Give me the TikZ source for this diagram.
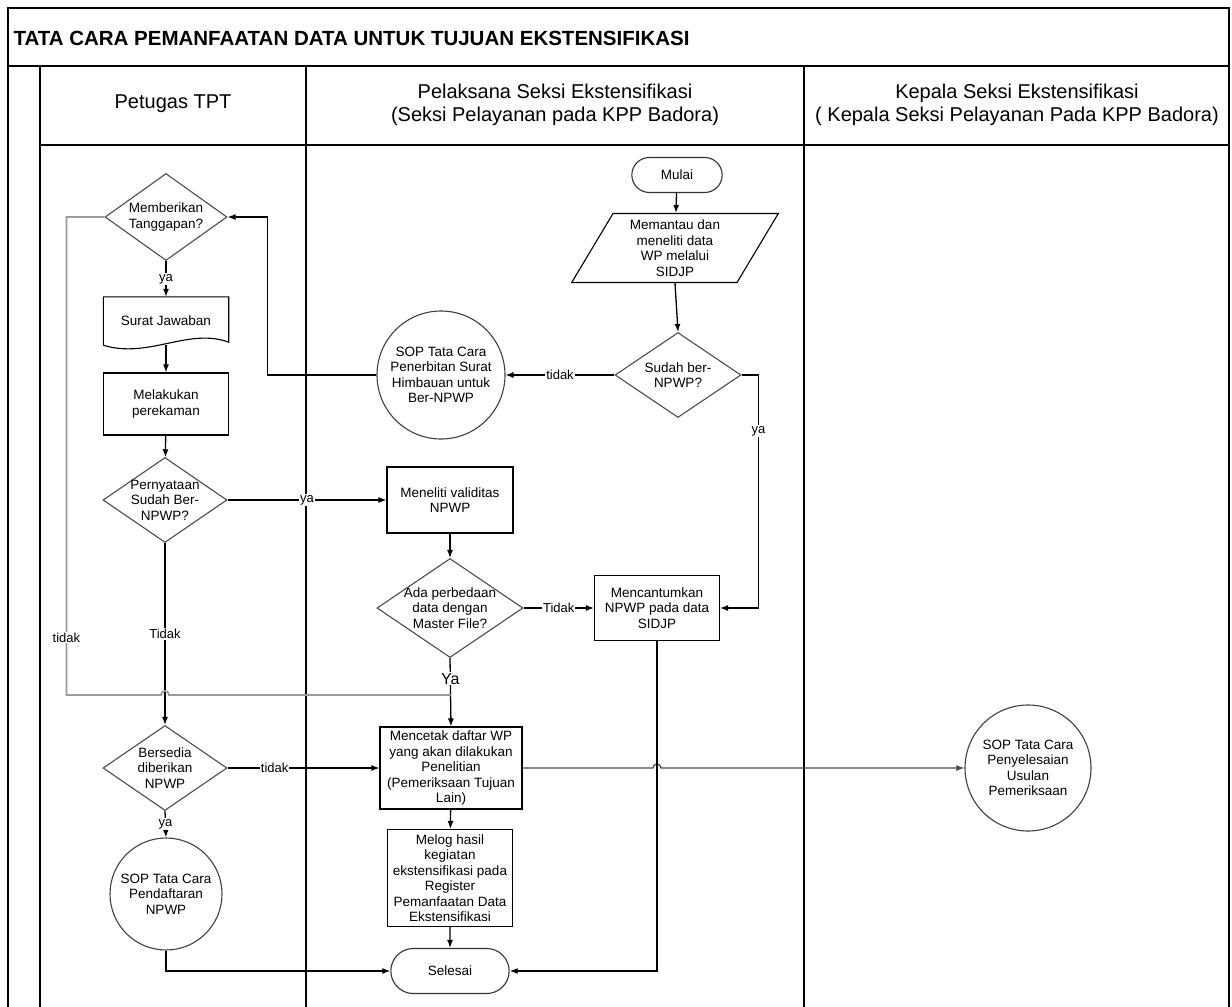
\documentclass[tikz,border=0pt]{standalone}
\usepackage{fontspec}
\setmainfont{Liberation Sans}
\usetikzlibrary{shapes.geometric,shapes.misc,arrows.meta,calc}

\newcommand\titleFont{\fontsize{20.5}{24}\selectfont\bfseries}
\newcommand\headFont{\fontsize{20}{23}\selectfont}
\newcommand\nodeFont{\fontsize{13.5}{15.5}\selectfont}
\newcommand\labelFont{\fontsize{13}{15}\selectfont}
\newcommand\bigLabelFont{\fontsize{16}{18}\selectfont}

\def\pageWidth{1232}
\def\pageHeight{1007}
\def\frameRight{1229}

\tikzset{
  lane/.style={line width=1.4pt},
  proses/.style={draw, line width=1.1pt, inner sep=1pt, align=center, font=\nodeFont},
  putusan/.style={diamond, draw=black!70, line width=1.1pt, inner sep=0pt},
  isi/.style={align=center, font=\nodeFont},
  ujung/.style={rounded rectangle, draw=black!80, line width=1.1pt, font=\nodeFont},
  sop/.style={circle, draw=black!75, line width=1.1pt, inner sep=0pt, align=center, font=\nodeFont},
  panah/.style={line width=1.3pt, -{Latex[length=8pt,width=6pt]}},
  abu/.style={draw=black!40, line width=1.8pt},
  ket/.style={fill=white, inner sep=1pt, font=\labelFont}
}

\begin{document}
\begin{tikzpicture}[x=1pt,y=1pt]
  \useasboundingbox (0,0) rectangle (\pageWidth,-\pageHeight);

  \draw[lane] (8,-\pageHeight) -- (8,-8) -- (\frameRight,-8) -- (\frameRight,-\pageHeight);
  \draw[lane] (8,-66) -- (\frameRight,-66);
  \draw[lane] (40,-145) -- (\frameRight,-145);
  \foreach \x in {40,306,804} {
    \draw[lane] (\x,-66) -- (\x,-\pageHeight);
  }

  \node[anchor=west, font=\titleFont] (judul) at (10,-38) {TATA CARA PEMANFAATAN DATA UNTUK TUJUAN EKSTENSIFIKASI};
  \node[font=\headFont] (laneTpt) at (173,-104) {Petugas TPT};
  \node[font=\headFont, align=center] (lanePelaksana) at (555,-105) {Pelaksana Seksi Ekstensifikasi\\(Seksi Pelayanan pada KPP Badora)};
  \node[font=\headFont, align=center] (laneKepala) at (1017,-105) {Kepala Seksi Ekstensifikasi\\( Kepala Seksi Pelayanan Pada KPP Badora)};

  \node[ujung, minimum width=97pt, minimum height=35pt] (mulai) at (677,-175) {Mulai};
  \node[trapezium, trapezium left angle=62, trapezium right angle=118, trapezium stretches=true,
        draw, line width=1.1pt, inner sep=0pt, minimum width=207pt, minimum height=69pt, isi] (pantau) at (675,-248) {Memantau dan\\meneliti data\\WP melalui\\SIDJP};
  \node[putusan, minimum width=126pt, minimum height=85pt, label={[isi]center:Sudah ber-\\NPWP?}] (sudah) at (678,-375) {};
  \node[sop, minimum size=128pt] (sopSurat) at (441,-375) {SOP Tata Cara\\Penerbitan Surat\\Himbauan untuk\\Ber-NPWP};

  \node[putusan, minimum width=122pt, minimum height=87pt, label={[isi]center:Memberikan\\Tanggapan?}] (beri) at (166,-217) {};
  \node[isi, minimum width=125pt, minimum height=48pt] (jawab) at (166,-321) {Surat Jawaban};
  \draw[line width=1.1pt] (jawab.south west) -- (jawab.north west) -- (jawab.north east) -- ($(jawab.south east)+(0,3)$)
    .. controls ($(jawab.south east)+(-40,18)$) and ($(jawab.south west)+(45,-14)$) .. (jawab.south west);
  \node[proses, minimum width=125pt, minimum height=62pt] (rekam) at (166,-404) {Melakukan\\perekaman};
  \node[putusan, minimum width=124pt, minimum height=85pt, label={[isi]center:Pernyataan\\Sudah Ber-\\NPWP?}] (nyata) at (165,-500) {};

  \node[proses, minimum width=126pt, minimum height=66pt] (teliti) at (450,-500) {Meneliti validitas\\NPWP};
  \node[putusan, minimum width=146pt, minimum height=99pt, label={[isi]center:Ada perbedaan\\data dengan\\Master File?}] (beda) at (450,-608) {};
  \node[proses, minimum width=125pt, minimum height=65pt] (cantum) at (657,-608) {Mencantumkan\\NPWP pada data\\SIDJP};

  \node[putusan, minimum width=124pt, minimum height=85pt, label={[isi]center:Bersedia\\diberikan\\NPWP}] (sedia) at (165,-768) {};
  \node[proses, minimum width=142pt, minimum height=82pt] (cetak) at (451,-768) {Mencetak daftar WP\\yang akan dilakukan\\Penelitian\\(Pemeriksaan Tujuan\\Lain)};
  \node[sop, minimum size=126pt] (sopPeriksa) at (1028,-768) {SOP Tata Cara\\Penyelesaian\\Usulan\\Pemeriksaan};
  \node[proses, minimum width=125pt, minimum height=97pt] (melog) at (450,-878) {Melog hasil\\kegiatan\\ekstensifikasi pada\\Register\\Pemanfaatan Data\\Ekstensifikasi};
  \node[sop, minimum size=112pt] (sopDaftar) at (166,-894) {SOP Tata Cara\\Pendaftaran\\NPWP};
  \node[ujung, minimum width=125pt, minimum height=45pt] (selesai) at (450,-971) {Selesai};

  \draw[panah] (mulai) -- (pantau);
  \draw[panah] (pantau.south) -- (sudah.north);
  \draw[panah] (sudah.west) -- node[ket]{tidak} (sopSurat.east);
  \draw[panah] (sudah.east) -- ++(17,0) |- node[ket,pos=0.12]{ya} (cantum.east);
  \draw[panah] (sopSurat.west) -- ++(-109,0) |- (beri.east);
  \draw[panah] (beri.south) -- node[ket]{ya} (jawab.north);
  \draw[panah] (jawab.south) -- (rekam.north);
  \draw[panah] (rekam) -- (nyata);
  \draw[panah] (nyata.east) -- node[ket]{ya} (teliti.west);
  \draw[panah] (nyata.south) -- node[ket]{Tidak} (sedia.north);
  \draw[panah] (teliti) -- (beda);
  \draw[panah] (beda.east) -- node[ket]{Tidak} (cantum.west);
  \draw[panah] (beda.south) -- node[ket,pos=0.3,font=\bigLabelFont]{Ya} (cetak.north);
  \coordinate (gabung) at ($(beda.south)!0.54!(cetak.north)$);
  \draw[abu] (beri.west) -- ++(-38,0) |- node[ket,pos=0.44]{tidak} ($(nyata.south |- gabung)+(-4,0)$)
    arc[start angle=180,end angle=0,radius=4] -- (gabung);
  \draw[panah] (sedia.east) -- node[ket,pos=0.31]{tidak} (cetak.west);
  \draw[panah] (sedia.south) -- node[ket]{ya} (sopDaftar.north);
  \coordinate (lompat) at (cantum.south |- cetak.east);
  \draw[panah, draw=black!70] (cetak.east) -- ($(lompat)+(-4,0)$) arc[start angle=180,end angle=0,radius=4] -- (sopPeriksa.west);
  \draw[panah] (cetak) -- (melog);
  \draw[panah] (melog) -- (selesai);
  \draw[panah] (sopDaftar.south) |- (selesai.west);
  \draw[panah] (cantum.south) |- (selesai.east);
\end{tikzpicture}
\end{document}
